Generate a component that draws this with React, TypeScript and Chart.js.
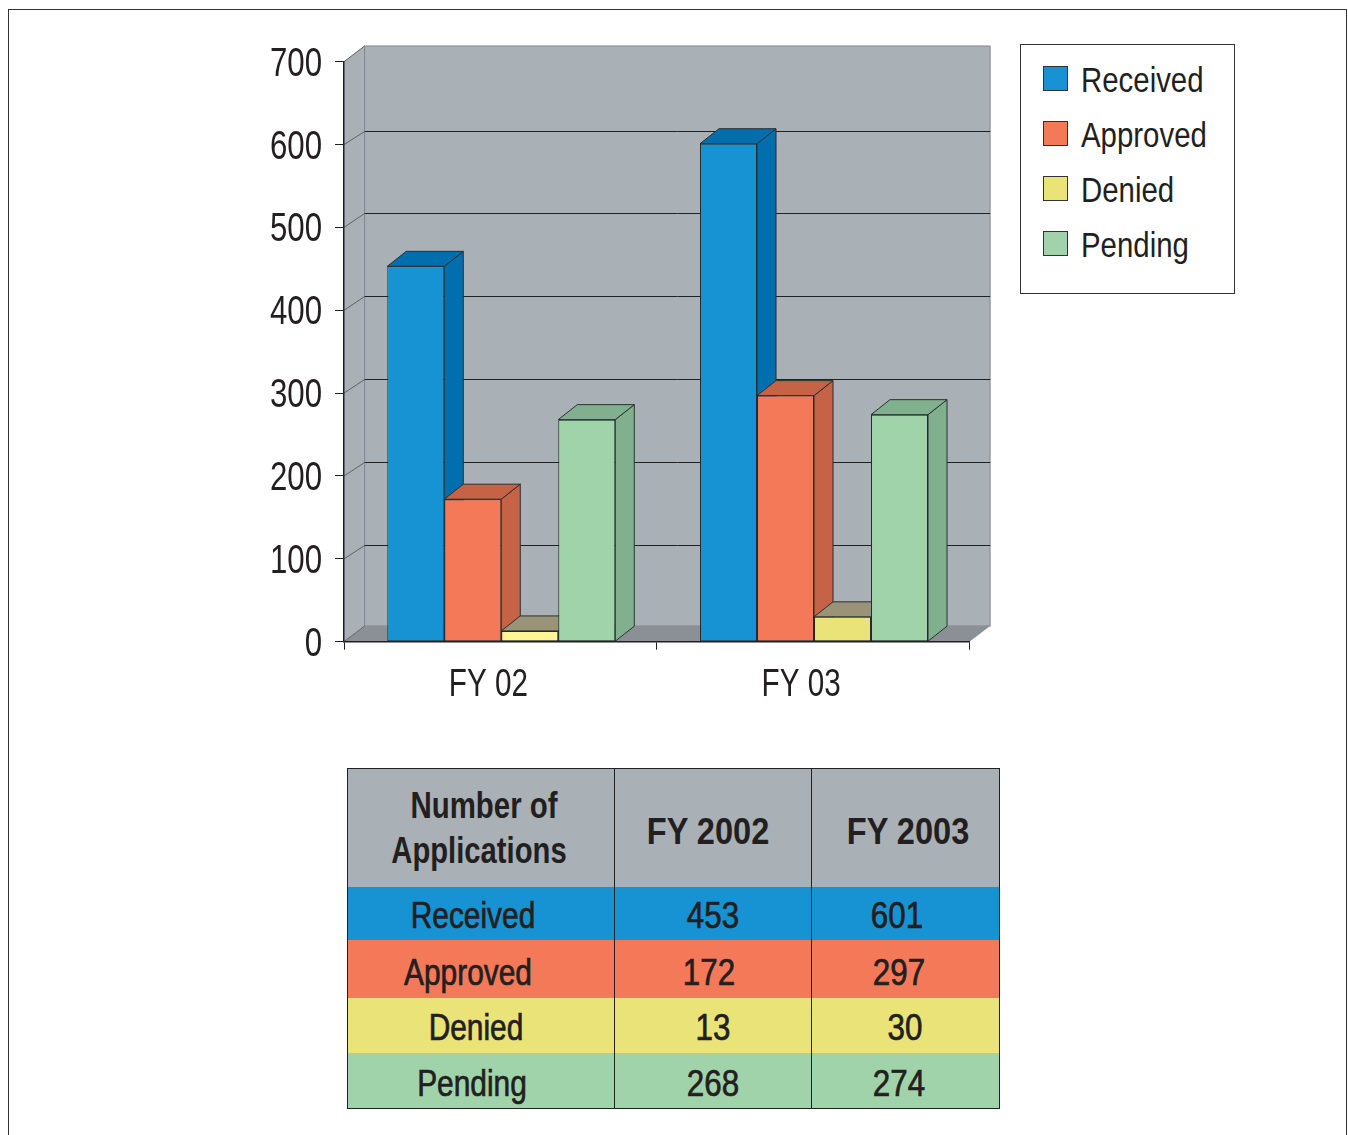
import React, { useEffect, useRef } from "react";
import { Chart, registerables } from "chart.js";

Chart.register(...registerables);

const categories = ["FY 02", "FY 03"];
const tableYears = ["FY 2002", "FY 2003"];
const seriesNames = ["Received", "Approved", "Denied", "Pending"];
const received = [453, 601];
const approved = [172, 297];
const denied = [13, 30];
const pending = [268, 274];
const seriesValues = [received, approved, denied, pending];

const frontColors = ["#1793d3", "#f47959", "#e9e378", "#a0d3aa"];
const deniedFront = ["#fff594", "#e9e378"];
const sideColors = ["#016eae", "#c66246", "#999478", "#81b08e"];

const FONT = '"Liberation Sans", sans-serif';
const INK = "#231f20";
const DEPTH_X = 20.6;
const DEPTH_Y = 15.7;
const GRID_DEPTH_Y = 14;
const BAR_DEPTH_X = 19;
const BAR_DEPTH_Y = 15;
const BAR_NUDGE = 0.9;
const CANVAS_NARROW = 0.78;

const depthPlugin = {
  id: "depth3d",
  afterDatasetsUpdate(chart: any) {
    chart.getSortedVisibleDatasetMetas().forEach((meta: any) => {
      meta.data.forEach((el: any) => {
        el.x += BAR_NUDGE;
      });
    });
  },
  beforeDraw(chart: any) {
    const { ctx, chartArea: a, scales } = chart;
    const dx = DEPTH_X;
    const dy = DEPTH_Y;
    ctx.save();
    ctx.lineWidth = 1;
    ctx.fillStyle = "#a9b0b6";
    ctx.beginPath();
    ctx.moveTo(a.left, a.bottom);
    ctx.lineTo(a.left + dx, a.bottom - dy);
    ctx.lineTo(a.left + dx, a.top - dy);
    ctx.lineTo(a.left, a.top);
    ctx.closePath();
    ctx.fill();
    ctx.fillRect(a.left + dx, a.top - dy, a.right - a.left, a.bottom - a.top);
    ctx.strokeStyle = "#80868c";
    ctx.strokeRect(a.left + dx, a.top - dy, a.right - a.left, a.bottom - a.top);
    ctx.fillStyle = "#8b9097";
    ctx.beginPath();
    ctx.moveTo(a.left, a.bottom);
    ctx.lineTo(a.left + dx, a.bottom - dy);
    ctx.lineTo(a.right + dx, a.bottom - dy);
    ctx.lineTo(a.right, a.bottom);
    ctx.closePath();
    ctx.fill();
    const y = scales.y;
    y.ticks.forEach((t: any, i: number) => {
      const py = y.getPixelForTick(i);
      const inner = t.value > 0 && t.value < y.max;
      const backY = inner ? Math.round(py - GRID_DEPTH_Y) + 0.5 : py - dy;
      ctx.strokeStyle = "#5e6367";
      ctx.beginPath();
      ctx.moveTo(a.left, py);
      ctx.lineTo(a.left + dx, backY);
      ctx.stroke();
      if (inner) {
        ctx.strokeStyle = "#1f2123";
        ctx.beginPath();
        ctx.moveTo(a.left + dx, backY);
        ctx.lineTo(a.right + dx, backY);
        ctx.stroke();
      }
    });
    ctx.restore();
  },
  beforeDatasetsDraw(chart: any) {
    const { ctx } = chart;
    const dx = BAR_DEPTH_X;
    const dy = BAR_DEPTH_Y;
    ctx.save();
    ctx.lineWidth = 1;
    ctx.strokeStyle = "#2b2f30";
    ctx.lineJoin = "round";
    seriesNames.forEach((_, index) => {
      const meta = chart.getDatasetMeta(index);
      ctx.fillStyle = sideColors[index];
      meta.data.forEach((el: any) => {
        const { x, y, base, width } = el.getProps(["x", "y", "base", "width"], true);
        const l = x - width / 2;
        const r = x + width / 2;
        ctx.beginPath();
        ctx.moveTo(r, y);
        ctx.lineTo(r + dx, y - dy);
        ctx.lineTo(r + dx, base - dy);
        ctx.lineTo(r, base);
        ctx.closePath();
        ctx.fill();
        ctx.stroke();
        ctx.beginPath();
        ctx.moveTo(l, y);
        ctx.lineTo(l + dx, y - dy);
        ctx.lineTo(r + dx, y - dy);
        ctx.lineTo(r, y);
        ctx.closePath();
        ctx.fill();
        ctx.stroke();
      });
    });
    ctx.restore();
  },
};

const legendTops = [66, 121, 176, 231];
const colLines = [614, 811];
const rowEdges = [887, 940, 998, 1053];
const rowOffsets = [
  [-8, 0, -8],
  [-13, -4, -6],
  [-5, 0, 0],
  [-9, 0, -6],
];
const rowNudges = [2, 4, 2, 3];

function TableCell(props: { x: number; y: number; bold?: boolean; size?: number; squeeze: number; text: string }) {
  return (
    <span
      style={{
        position: "absolute",
        left: props.x,
        top: props.y,
        transform: `translate(-50%, -50%) scaleX(${props.squeeze})`,
        whiteSpace: "nowrap",
        color: INK,
        fontFamily: FONT,
        fontSize: props.size ?? 36,
        fontWeight: props.bold ? 700 : 400,
        WebkitTextStroke: props.bold ? undefined : "0.7px " + INK,
      }}
    >
      {props.text}
    </span>
  );
}

export default function App() {
  const ref = useRef<HTMLCanvasElement>(null);

  useEffect(() => {
    document.body.style.margin = "0";
    document.body.style.overflow = "hidden";
    const canvas = ref.current!;
    // The reference face is condensed: no condensed family is installed, so
    // compress glyphs through fillText's own maxWidth argument.
    const c2d: any = canvas.getContext("2d");
    const nativeFill = c2d.fillText.bind(c2d);
    c2d.fillText = (t: string, x: number, y: number, max?: number) =>
      nativeFill(t, x, y, max ?? c2d.measureText(t).width * CANVAS_NARROW);

    const chart = new Chart(canvas, {
      type: "bar",
      data: {
        labels: categories,
        datasets: seriesNames.map((name, i) => ({
          label: name,
          data: seriesValues[i],
          backgroundColor: i === 2 ? deniedFront : frontColors[i],
          borderColor: "#1f2a2d",
          borderWidth: 1,
          borderSkipped: false,
          categoryPercentage: 0.729,
          barPercentage: 1,
        })),
      },
      options: {
        animation: false,
        responsive: false,
        devicePixelRatio: 1,
        layout: { padding: { left: 254, top: 61.7, right: 378.5, bottom: 433.3 } },
        plugins: { legend: { display: false }, tooltip: { enabled: false }, title: { display: false } },
        scales: {
          x: {
            afterFit: (s: any) => {
              s.height = 60;
            },
            grid: { drawOnChartArea: false, drawTicks: true, tickLength: 8, tickColor: INK, offset: true },
            border: { display: true, color: INK, width: 1.5 },
            ticks: {
              color: INK,
              font: { family: FONT, size: 38 },
              padding: 13,
              labelOffset: -12,
              maxRotation: 0,
            },
          },
          y: {
            min: 0,
            max: 700,
            afterFit: (s: any) => {
              s.width = 90;
            },
            grid: { drawOnChartArea: false, drawTicks: true, tickLength: 9, tickColor: INK },
            border: { display: true, color: INK, width: 1.5 },
            ticks: {
              stepSize: 100,
              color: INK,
              font: { family: FONT, size: 40 },
              padding: 13,
              labelOffset: 3,
            },
          },
        },
      },
      plugins: [depthPlugin],
    } as any);
    return () => chart.destroy();
  }, []);

  const rowMid = (i: number) => (rowEdges[i] + (rowEdges[i + 1] ?? 1108)) / 2;

  return (
    <div style={{ position: "relative", width: 1348, height: 1135, overflow: "hidden", background: "#fff" }}>
      <div
        style={{
          position: "absolute",
          left: 8,
          top: 9,
          width: 1337,
          height: 1140,
          borderLeft: "1.5px solid #333",
          borderTop: "1.5px solid #333",
          borderRight: "1.5px solid #333",
        }}
      />
      <canvas ref={ref} width={1348} height={1135} style={{ position: "absolute", left: 0, top: 0, display: "block" }} />

      <div
        style={{
          position: "absolute",
          left: 1020,
          top: 44,
          width: 213,
          height: 248,
          border: "1.5px solid #333",
          background: "#fff",
        }}
      />
      {seriesNames.map((name, i) => (
        <React.Fragment key={name}>
          <div
            style={{
              position: "absolute",
              left: 1043,
              top: legendTops[i],
              width: 23,
              height: 23,
              background: frontColors[i],
              border: "1px solid #333",
            }}
          />
          <span
            style={{
              position: "absolute",
              left: 1081,
              top: legendTops[i] + 13.5,
              transform: "translateY(-50%) scaleX(0.84)",
              transformOrigin: "left center",
              fontFamily: FONT,
              fontSize: 35,
              color: INK,
              whiteSpace: "nowrap",
            }}
          >
            {name}
          </span>
        </React.Fragment>
      ))}

      <div style={{ position: "absolute", left: 348, top: 769, width: 651, height: 118, background: "#a9b0b6" }} />
      {seriesNames.map((name, i) => (
        <div
          key={name}
          style={{
            position: "absolute",
            left: 348,
            top: rowEdges[i],
            width: 651,
            height: (rowEdges[i + 1] ?? 1108) - rowEdges[i],
            background: frontColors[i],
          }}
        />
      ))}
      <div
        style={{
          position: "absolute",
          left: 347,
          top: 768,
          width: 651,
          height: 339,
          border: "1.5px solid #222",
        }}
      />
      {colLines.map((x) => (
        <div key={x} style={{ position: "absolute", left: x - 0.5, top: 769, width: 1.3, height: 339, background: "#222" }} />
      ))}
      <TableCell x={484} y={806} bold size={37} squeeze={0.795} text="Number of" />
      <TableCell x={479} y={851} bold size={37} squeeze={0.79} text="Applications" />
      <TableCell x={708} y={832} bold size={37} squeeze={0.88} text={tableYears[0]} />
      <TableCell x={908} y={832} bold size={37} squeeze={0.88} text={tableYears[1]} />
      {seriesNames.map((name, i) => (
        <React.Fragment key={name}>
          <TableCell x={481 + rowOffsets[i][0]} y={rowMid(i) + rowNudges[i]} squeeze={0.83} text={name} />
          <TableCell x={712.5 + rowOffsets[i][1]} y={rowMid(i) + rowNudges[i]} squeeze={0.87} text={String(seriesValues[i][0])} />
          <TableCell x={905 + rowOffsets[i][2]} y={rowMid(i) + rowNudges[i]} squeeze={0.87} text={String(seriesValues[i][1])} />
        </React.Fragment>
      ))}
    </div>
  );
}
